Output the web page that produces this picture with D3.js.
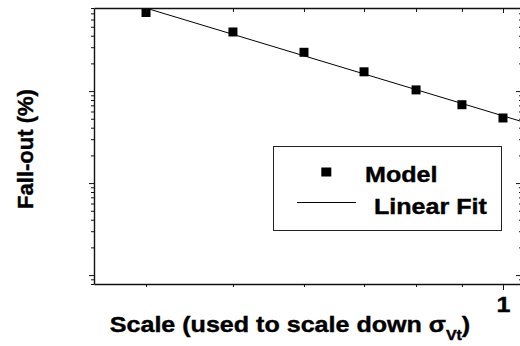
<!DOCTYPE html>
<html>
<head>
<meta charset="utf-8">
<script src="https://cdn.jsdelivr.net/npm/d3@7"></script>
<style>
  body { margin: 0; background: #fff; }
  svg { display: block; }
  text { font-family: "Liberation Sans", Arial, Helvetica, sans-serif; font-weight: bold; fill: #000;
         stroke: #000; stroke-width: 0.4px; }
</style>
</head>
<body>
<svg id="chart" width="520" height="346"></svg>
<script>
// Model fall-out (%) at each scale factor
const scaleFactors = [0.4, 0.5, 0.6, 0.7, 0.8, 0.9, 1.0];
const falloutModel = [71.5, 43.9, 26.4, 16.2, 10.3, 7.11, 5.10];
const xTickLabels = { 1: "1" };
const seriesNames = ["Model", "Linear Fit"];
const xTitle = "Scale (used to scale down σ";
const xTitleSub = "Vt";
const yTitle = "Fall-out (%)";

const plot = { left: 94, right: 522, top: 8, bottom: 284 };
const stretch = 1.14; // horizontal widening of the lettering

const svg = d3.select("#chart");

const x = d3.scaleLog().domain([0.35, 1.05]).range([plot.left, plot.right]);
const y = d3.scaleLog().domain([0.08, 80]).range([plot.bottom, plot.top]);

const isMajor = v => Math.abs(Math.log10(v) - Math.round(Math.log10(v))) < 1e-9;

// least-squares straight line in log-log space
const lx = scaleFactors.map(Math.log10), ly = falloutModel.map(Math.log10);
const mx = d3.mean(lx), my = d3.mean(ly);
const slope = d3.sum(lx, (v, i) => (v - mx) * (ly[i] - my)) / d3.sum(lx, v => (v - mx) ** 2);
const intercept = my - slope * mx;
const fit = s => Math.pow(10, intercept + slope * Math.log10(s));

svg.append("clipPath").attr("id", "plotClip")
  .append("rect")
  .attr("x", plot.left).attr("y", plot.top)
  .attr("width", plot.right - plot.left).attr("height", plot.bottom - plot.top);

// fit line
const fitDomain = [scaleFactors[0], 1.05];
svg.append("path")
  .attr("clip-path", "url(#plotClip)")
  .attr("d", d3.line().x(d => x(d)).y(d => y(fit(d)))(fitDomain))
  .attr("fill", "none").attr("stroke", "#000").attr("stroke-width", 1);

// model points
const sq = 9;
svg.append("g").selectAll("rect").data(scaleFactors).join("rect")
  .attr("x", d => x(d) - sq / 2)
  .attr("y", (d, i) => y(falloutModel[i]) - sq / 2)
  .attr("width", sq).attr("height", sq)
  .attr("fill", "#000");

// axes
const xTicks = x.ticks();
const yTicks = y.ticks();

function styleAxis(g) {
  g.select(".domain").attr("stroke", "#111").attr("stroke-width", 1.4);
  g.selectAll(".tick line").attr("stroke", "#111").attr("stroke-width", 1);
}

const gBottom = svg.append("g")
  .attr("transform", `translate(0,${plot.bottom})`)
  .call(d3.axisBottom(x).tickValues(xTicks).tickSizeOuter(0)
    .tickFormat(d => xTickLabels[d] || ""));
gBottom.selectAll(".tick line").attr("y2", d => isMajor(d) ? 6 : 3);
gBottom.selectAll(".tick text")
  .attr("y", 27.7).attr("dy", 0)
  .attr("font-size", 22)
  .attr("transform", `scale(${stretch},1)`);
styleAxis(gBottom);

const gTop = svg.append("g")
  .attr("transform", `translate(0,${plot.top})`)
  .call(d3.axisTop(x).tickValues(xTicks).tickSizeOuter(0).tickFormat(""));
gTop.selectAll(".tick line").attr("y2", d => isMajor(d) ? 5 : 4);
styleAxis(gTop);

const gLeft = svg.append("g")
  .attr("transform", `translate(${plot.left},0)`)
  .call(d3.axisLeft(y).tickValues(yTicks).tickSizeOuter(0).tickFormat(""));
gLeft.selectAll(".tick line").attr("x2", d => isMajor(d) ? -5 : -3);
styleAxis(gLeft);

const gRight = svg.append("g")
  .attr("transform", `translate(${plot.right},0)`)
  .call(d3.axisRight(y).tickValues(yTicks).tickSizeOuter(0).tickFormat(""));
gRight.selectAll(".tick line").attr("x2", d => isMajor(d) ? -6 : -3);
styleAxis(gRight);

svg.selectAll(".tick text").attr("fill", "#000").attr("font-weight", "bold")
  .attr("font-family", "'Liberation Sans', Arial, sans-serif");

// axis titles
const xt = svg.append("text")
  .attr("transform", `translate(290,331.7) scale(${stretch},1)`)
  .attr("text-anchor", "middle")
  .attr("font-size", 22);
xt.append("tspan").text(xTitle);
xt.append("tspan").attr("font-size", 14).attr("dy", 8).text(xTitleSub);
xt.append("tspan").attr("dy", -8).text(")");

svg.append("text")
  .attr("transform", "translate(33,149) rotate(-90)")
  .attr("text-anchor", "middle")
  .attr("font-size", 22)
  .text(yTitle);

// legend
const lg = svg.append("g");
lg.append("rect")
  .attr("x", 273.5).attr("y", 146.5).attr("width", 228).attr("height", 84)
  .attr("fill", "#fff").attr("stroke", "#222").attr("stroke-width", 1);
lg.append("rect")
  .attr("x", 326.3 - 5).attr("y", 172 - 4.5).attr("width", 10).attr("height", 9)
  .attr("fill", "#000");
lg.append("line")
  .attr("x1", 297).attr("x2", 356).attr("y1", 202.5).attr("y2", 202.5)
  .attr("stroke", "#000").attr("stroke-width", 1);
lg.append("text")
  .attr("transform", `translate(365,181.7) scale(${stretch},1)`)
  .attr("font-size", 22).text(seriesNames[0]);
lg.append("text")
  .attr("transform", `translate(374,214) scale(${stretch},1)`)
  .attr("font-size", 22).text(seriesNames[1]);
</script>
</body>
</html>
